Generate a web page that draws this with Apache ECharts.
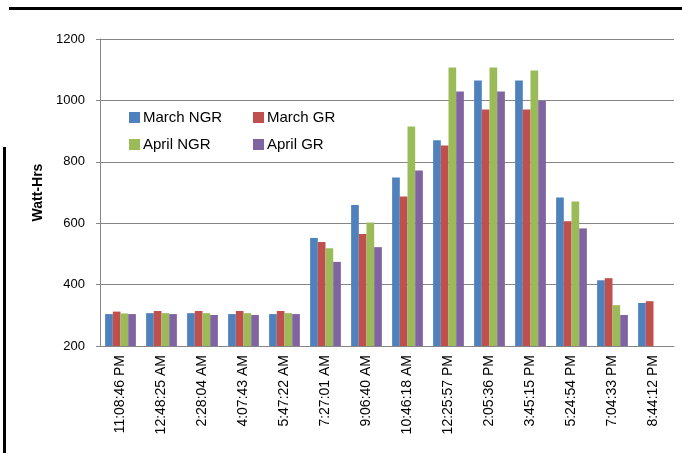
<!DOCTYPE html>
<html><head><meta charset="utf-8">
<script src="https://cdn.jsdelivr.net/npm/echarts@6/dist/echarts.min.js"></script>
<style>html,body{margin:0;padding:0;background:#fff}#c{width:682px;height:453px}</style>
</head><body><div id="c"></div>
<script>
const categories = ['11:08:46 PM','12:48:25 AM','2:28:04 AM','4:07:43 AM','5:47:22 AM','7:27:01 AM','9:06:40 AM','10:46:18 AM','12:25:57 PM','2:05:36 PM','3:45:15 PM','5:24:54 PM','7:04:33 PM','8:44:12 PM'];
const marchNGR = [304,307,307,304,304,552,659,749,870,1065,1065,684,414,340];
const marchGR  = [312,314,314,314,314,539,565,687,853,970,970,606,421,346];
const aprilNGR = [306,307,307,307,307,518,602,915,1107,1107,1097,671,333,null];
const aprilGR  = [304,304,301,301,304,474,522,772,1029,1029,998,583,301,null];
const yTicks = {min:200, max:1200, interval:200};
const seriesNames = ['March NGR','March GR','April NGR','April GR'];
const colors = ['#4F81BD','#C0504D','#9BBB59','#8064A2'];

const chart = echarts.init(document.getElementById('c'), null, {renderer:'canvas'});
const font = 'Liberation Sans, Arial, sans-serif';
function leg(name, left, top){
  return {data:[name], left:left, top:top, itemWidth:11, itemHeight:11, itemGap:0,
    icon:'rect', padding:0, textStyle:{fontFamily:font, fontSize:15, color:'#000', padding:[0,0,0,-2]}};
}
chart.setOption({
  animation:false,
  color: colors,
  legend:[leg(seriesNames[0],129,110), leg(seriesNames[1],253,110), leg(seriesNames[2],129,137), leg(seriesNames[3],253,137)],
  grid:{left:100, right:8, top:39, bottom:107, containLabel:false},
  xAxis:{type:'category', data:categories,
    axisLine:{show:true, lineStyle:{color:'#868686', width:1}},
    axisTick:{show:false},
    axisLabel:{rotate:90, interval:0, margin:9, fontFamily:font, fontSize:14, color:'#000'}},
  yAxis:{type:'value', min:yTicks.min, max:yTicks.max, interval:yTicks.interval,
    name:'Watt-Hrs', nameLocation:'middle', nameGap:52, nameRotate:90,
    nameTextStyle:{fontFamily:font, fontSize:14, fontWeight:'bold', color:'#000'},
    axisLine:{show:true, lineStyle:{color:'#868686'}},
    axisTick:{show:true, inside:false, length:4, lineStyle:{color:'#868686'}},
    axisLabel:{margin:15, fontFamily:font, fontSize:13, color:'#000', formatter:function(v){return String(v);}},
    splitLine:{lineStyle:{color:'#868686', width:1}}},
  series:[
    {name:seriesNames[0], type:'bar', data:marchNGR, barGap:'0%', barCategoryGap:'25%'},
    {name:seriesNames[1], type:'bar', data:marchGR},
    {name:seriesNames[2], type:'bar', data:aprilNGR},
    {name:seriesNames[3], type:'bar', data:aprilGR}
  ],
  graphic:[
    {type:'rect', shape:{x:9, y:7, width:673, height:3}, style:{fill:'#000'}},
    {type:'rect', shape:{x:3, y:147, width:3, height:306}, style:{fill:'#000'}}
  ]
});
</script></body></html>
